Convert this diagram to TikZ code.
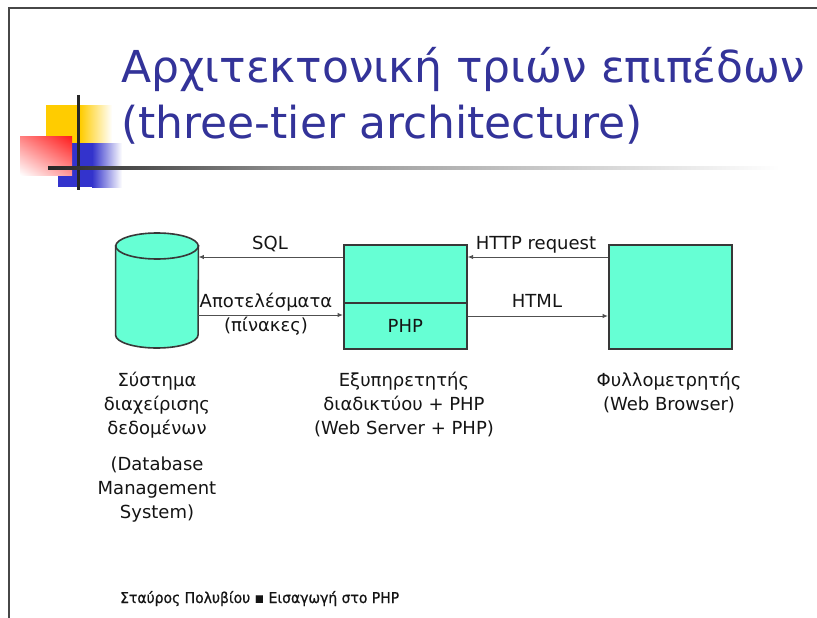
\documentclass[tikz,border=0pt]{standalone}
\usepackage{fontspec}
\setmainfont{DejaVu Sans}
\newfontfamily\footfont[FakeBold=0.8,FakeStretch=0.93]{DejaVu Sans}
\usetikzlibrary{arrows.meta,shadings}

\definecolor{tierfill}{HTML}{66FFD4}
\definecolor{tieredge}{HTML}{383838}
\definecolor{titleblue}{HTML}{333399}
\definecolor{decoyellow}{HTML}{FFCC00}
\definecolor{decoblue}{HTML}{3333CC}
\definecolor{decored}{HTML}{FF1A1A}
\definecolor{linkgray}{HTML}{505050}
\definecolor{inktext}{HTML}{141414}

\tikzset{
  tier/.style={draw=tieredge, line width=1.6pt, fill=tierfill, inner sep=0pt,
               font=\fontsize{18}{22}\selectfont, text=inktext},
  link/.style={draw=linkgray, line width=1pt, -{Latex[length=5.5pt,width=4.5pt]}},
  lbl/.style={font=\fontsize{18}{22}\selectfont, text=inktext, inner sep=0pt, anchor=base},
  caption/.style={font=\fontsize{18}{24}\selectfont, text=inktext, inner sep=0pt,
                  align=center, anchor=north},
  headline/.style={font=\fontsize{44}{44}\selectfont, text=titleblue,
                   inner sep=0pt, anchor=base west},
}

\begin{document}
\begin{tikzpicture}[x=1pt, y=-1pt]
\useasboundingbox (0,0) rectangle (817,618);
\fill[white] (0,0) rectangle (817,618);

% slide frame
\draw[line width=2.5pt, black!72] (9,618) -- (9,8) -- (817,8);

% corner ornament
\fill[decoyellow] (46,105) rectangle (80,143);
\shade[left color=decoyellow, right color=white] (80,105) rectangle (112,143);
\fill[decoblue] (58,143) rectangle (92,187);
\shade[left color=decoblue, right color=white] (92,143) rectangle (122,187);
\shade[upper right=decored, upper left=decored!55, lower right=decored!45,
       lower left=white] (20,136) rectangle (72,175);
\draw[line width=3pt, black!85] (78,95) -- (78,190);
\shade[left color=black!85, right color=black!45] (48,166.8) rectangle (280,169.6);
\shade[left color=black!45, right color=white] (280,166.8) rectangle (780,169.6);

% title
\node[headline] (title1) at (121,82) {Αρχιτεκτονική τριών επιπέδων};
\node[headline] (title2) at (121,138) {(three-tier architecture)};

% database cylinder
\node[minimum width=82.5, minimum height=115, inner sep=0pt] (db) at (157,290.5) {};
\filldraw[draw=tieredge, line width=1.6pt, fill=tierfill]
  (db.west |- 0,246) -- (db.west |- 0,335)
  arc[start angle=180, end angle=360, x radius=41.25pt, y radius=13pt]
  -- (db.east |- 0,246) -- cycle;
\filldraw[draw=tieredge, line width=1.6pt, fill=tierfill]
  (157,246) ellipse[x radius=41.25pt, y radius=13pt];

% web server with PHP module
\node[tier, minimum width=123, minimum height=58, anchor=north west] (srv) at (343,244) {};
\node[tier, minimum width=123, minimum height=46, anchor=north west] (php) at (343,302) {PHP};

% web browser
\node[tier, minimum width=123, minimum height=104, anchor=north west] (web) at (608,244) {};

% requests and replies
\draw[link] (srv.west |- 0,257) -- (db.east |- 0,257);
\draw[link] (db.east |- 0,315) -- (php.west |- 0,315);
\draw[link] (web.west |- 0,257) -- (srv.east |- 0,257);
\draw[link] (php.east |- 0,316) -- (web.west |- 0,316);

\node[lbl] (sql) at (270,249) {SQL};
\node[lbl] (res) at (266,307) {Αποτελέσματα};
\node[lbl] (tab) at (266,331) {(πίνακες)};
\node[lbl] (req) at (536,249) {HTTP request};
\node[lbl] (html) at (537,307) {HTML};

% captions
\node[caption] (dbname) at (157,372) {Σύστημα\\διαχείρισης\\δεδομένων};
\node[caption] (dbeng) at (157,457) {(Database\\Management\\System)};
\node[caption] (srvname) at (404,372) {Εξυπηρετητής\\διαδικτύου + PHP\\(Web Server + PHP)};
\node[caption] (webname) at (669,372) {Φυλλομετρητής\\(Web Browser)};

% footer
\node[font=\footfont\fontsize{15}{17}\selectfont, text=inktext, inner sep=0pt, anchor=base west]
  (foot) at (120,603) {Σταύρος Πολυβίου ▪ Εισαγωγή στο PHP};
\end{tikzpicture}
\end{document}
